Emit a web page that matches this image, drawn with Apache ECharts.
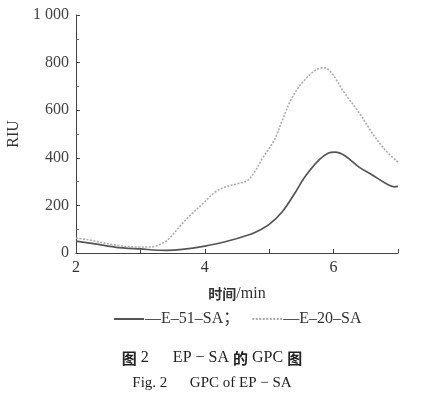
<!DOCTYPE html>
<html>
<head>
<meta charset="utf-8">
<script src="https://cdn.jsdelivr.net/npm/echarts@6/dist/echarts.min.js"></script>
<style>
html,body{margin:0;padding:0;background:#fff;}
#c{width:424px;height:395px;}
</style>
</head>
<body>
<div id="c"></div>
<script>
// ---- data ----
const seriesNames = ['E-51-SA', 'E-20-SA'];
const legendLabels = ['—E–51–SA；', '—E–20–SA'];
const e51Time   = [2.0, 2.3, 2.6, 3.0, 3.4, 3.65, 4.0, 4.3, 4.7, 4.85, 5.0, 5.2, 5.4, 5.55, 5.77, 5.92, 6.02, 6.17, 6.4, 6.6, 6.8, 6.95, 7.0];
const e51Values = [50, 38, 25, 17, 11, 15, 29, 46, 78, 96, 120, 172, 252, 318, 390, 420, 424, 410, 360, 328, 294, 278, 280];
const e20Time   = [2.0, 2.2, 2.6, 2.95, 3.15, 3.35, 3.47, 3.63, 3.78, 3.98, 4.14, 4.3, 4.52, 4.67, 4.77, 4.9, 5.08, 5.2, 5.35, 5.55, 5.77, 5.86, 5.97, 6.17, 6.4, 6.6, 6.8, 7.0];
const e20Values = [63, 55, 34, 25, 25, 42, 67, 118, 160, 210, 252, 276, 292, 306, 340, 400, 475, 555, 650, 727, 775, 778, 756, 672, 588, 504, 433, 382];
const yTicks = [0, 200, 400, 600, 800, 1000];
const xLabelValues = [2, 4, 6];
const xAxisTitle = '{c|时间}{s|/min}';
const yAxisTitle = 'RIU';
const caption1 = '{b|图}{s| 2      EP − SA }{b|的}{s| GPC }{b|图}';
const caption2 = 'Fig. 2      GPC of EP − SA';

function pairs(xs, ys){ return xs.map((x,i)=>[x, ys[i]]); }

const serif = '"Liberation Serif","Times New Roman",serif';
const cjk = '"Noto Sans CJK SC"';
const chart = echarts.init(document.getElementById('c'));
chart.setOption({
  backgroundColor: '#fff',
  animation: false,
  grid: {left: 76, right: 26, top: 15, bottom: 142, containLabel: false, outerBoundsMode: 'none'},
  title: [
    {text: caption1, left: 'center', top: 345,
     textStyle: {fontSize: 15, color: '#222', fontWeight: 'normal',
       rich: {b: {fontFamily: cjk, fontSize: 15, fontWeight: 'bold', color: '#222'},
              s: {fontFamily: serif, fontSize: 16, fontWeight: 'normal', color: '#222'}}}},
    {text: caption2, left: 'center', top: 371,
     textStyle: {fontFamily: serif, fontSize: 15, fontWeight: 'normal', color: '#222'}}
  ],
  legend: {
    top: 306, left: 108,
    itemWidth: 30, itemHeight: 10, itemGap: 12,
    data: seriesNames,
    itemStyle: {opacity: 0},
    formatter: n => legendLabels[seriesNames.indexOf(n)],
    textStyle: {fontFamily: serif + ',' + cjk, fontSize: 16, color: '#333', padding: [0,0,0,-4]}
  },
  xAxis: {
    type: 'value', min: 2, max: 7, interval: 1,
    name: xAxisTitle, nameLocation: 'middle', nameGap: 33,
    nameTextStyle: {rich: {c: {fontFamily: cjk, fontSize: 14, fontWeight: 'bold', color: '#333'},
                           s: {fontFamily: serif, fontSize: 16, color: '#333'}}},
    axisLine: {lineStyle: {color: '#444', width: 1}},
    axisTick: {inside: true, length: 4, lineStyle: {color: '#444'}},
    axisLabel: {fontFamily: serif, fontSize: 16, color: '#333', margin: 7,
      formatter: v => xLabelValues.indexOf(v) >= 0 ? String(v) : ''},
    splitLine: {show: false}
  },
  yAxis: {
    type: 'value', min: 0, max: 1000, interval: 200,
    name: yAxisTitle, nameLocation: 'middle', nameGap: 52, nameRotate: 90,
    nameTextStyle: {fontFamily: serif, fontSize: 16, color: '#333'},
    axisLine: {show: true, lineStyle: {color: '#444', width: 1}},
    axisTick: {show: true, inside: true, length: 4, lineStyle: {color: '#444'}},
    minorTick: {show: true, splitNumber: 2, length: 3, lineStyle: {color: '#666'}},
    axisLabel: {fontFamily: serif, fontSize: 16, color: '#444', margin: 7,
      formatter: v => yTicks.indexOf(v) >= 0 ? (v >= 1000 ? '1 000' : String(v)) : ''},
    splitLine: {show: false}
  },
  series: [
    {name: seriesNames[0], type: 'line', data: pairs(e51Time, e51Values), smooth: 0.35,
     symbol: 'none', lineStyle: {color: '#555', width: 1.7}, itemStyle: {color: '#555'}},
    {name: seriesNames[1], type: 'line', data: pairs(e20Time, e20Values), smooth: 0.35,
     symbol: 'none', lineStyle: {color: '#aaa', width: 1.6, type: [2, 1.5]}, itemStyle: {color: '#aaa'}}
  ]
});
</script>
</body>
</html>
